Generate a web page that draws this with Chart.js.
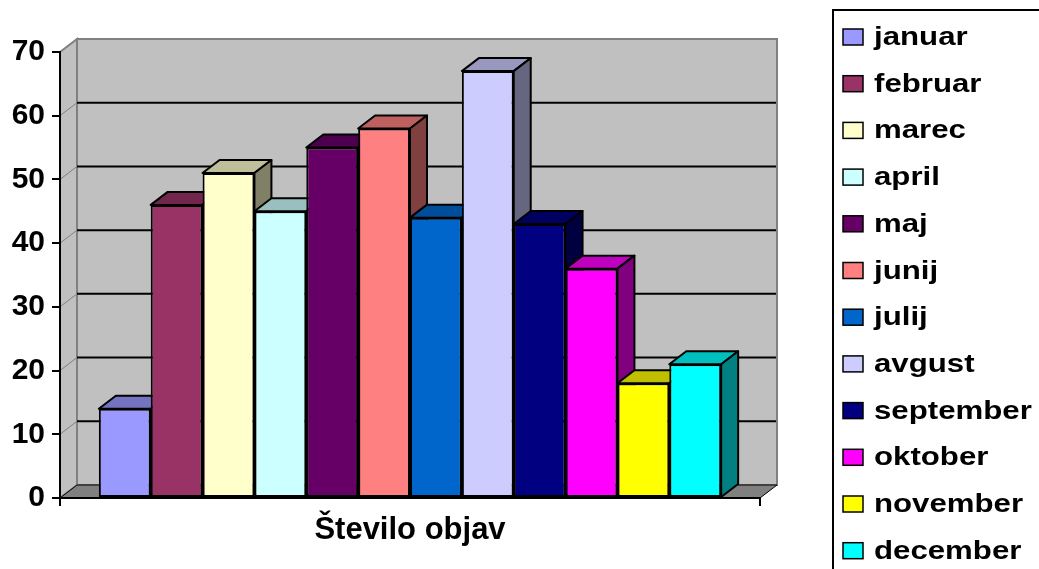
<!DOCTYPE html>
<html>
<head>
<meta charset="utf-8">
<script src="https://cdn.jsdelivr.net/npm/chart.js@4/dist/chart.umd.min.js"></script>
<style>
html, body { margin: 0; padding: 0; background: #fff; }
</style>
</head>
<body>
<canvas id="objaveChart" width="1039" height="569"></canvas>
<script>
const months = ['januar', 'februar', 'marec', 'april', 'maj', 'junij', 'julij', 'avgust', 'september', 'oktober', 'november', 'december'];
const counts = [14, 46, 51, 45, 55, 58, 44, 67, 43, 36, 18, 21];
const colors = ['#9999FF', '#993366', '#FFFFCC', '#CCFFFF', '#660066', '#FF8080', '#0066CC', '#CCCCFF', '#000080', '#FF00FF', '#FFFF00', '#00FFFF'];
const category = ['Število objav'];
const yMin = 0, yMax = 70, yStep = 10;

// depth of the fake 3d look
const DX = 17, DY = 13;
const FONT = '"Liberation Sans", Arial, sans-serif';

function shade(hex, f) {
    const n = parseInt(hex.slice(1), 16);
    const r = Math.round(((n >> 16) & 255) * f);
    const g = Math.round(((n >> 8) & 255) * f);
    const b = Math.round((n & 255) * f);
    return 'rgb(' + r + ',' + g + ',' + b + ')';
}

function poly(ctx, pts, fill, stroke, lw) {
    ctx.beginPath();
    ctx.moveTo(pts[0][0], pts[0][1]);
    for (let i = 1; i < pts.length; i++) ctx.lineTo(pts[i][0], pts[i][1]);
    ctx.closePath();
    if (fill) { ctx.fillStyle = fill; ctx.fill(); }
    if (stroke) { ctx.strokeStyle = stroke; ctx.lineWidth = lw; ctx.stroke(); }
}

// walls, floor and gridlines on the back wall
const wallsPlugin = {
    id: 'walls',
    beforeDraw(chart) {
        const ctx = chart.ctx;
        const ys = chart.scales.y;
        const L = chart.chartArea.left, R = chart.chartArea.right;
        const y0 = ys.getPixelForValue(yMin), yT = ys.getPixelForValue(yMax);
        ctx.save();
        poly(ctx, [[L + DX, yT - DY], [R + DX, yT - DY], [R + DX, y0 - DY], [L + DX, y0 - DY]], '#C0C0C0', '#808080', 2);
        poly(ctx, [[L, yT], [L + DX, yT - DY], [L + DX, y0 - DY], [L, y0]], '#C0C0C0', '#808080', 2);
        poly(ctx, [[L, y0], [R, y0], [R + DX, y0 - DY], [L + DX, y0 - DY]], '#808080', '#000', 1);
        for (let v = yMin + yStep; v < yMax; v += yStep) {
            const py = ys.getPixelForValue(v);
            ctx.beginPath();
            ctx.moveTo(L + DX, py - DY);
            ctx.lineTo(R + DX - 1, py - DY);
            ctx.strokeStyle = '#000';
            ctx.lineWidth = 2;
            ctx.stroke();
            ctx.beginPath();
            ctx.moveTo(L, py);
            ctx.lineTo(L + DX, py - DY);
            ctx.strokeStyle = '#808080';
            ctx.lineWidth = 1;
            ctx.stroke();
        }
        ctx.restore();
    }
};

// top and side faces of each column, left to right
const depthPlugin = {
    id: 'depth',
    beforeDatasetsDraw(chart) {
        const ctx = chart.ctx;
        ctx.save();
        ctx.lineJoin = 'round';
        chart.data.datasets.forEach((ds, i) => {
            const el = chart.getDatasetMeta(i).data[0];
            const p = el.getProps(['x', 'y', 'base', 'width'], true);
            const l = p.x - p.width / 2, r = p.x + p.width / 2;
            poly(ctx, [[l, p.y], [l + DX, p.y - DY], [r + DX, p.y - DY], [r, p.y]], shade(ds.backgroundColor, 0.75), '#000', 2);
            poly(ctx, [[r, p.y], [r + DX, p.y - DY], [r + DX, p.base - DY], [r, p.base]], shade(ds.backgroundColor, 0.5), '#000', 2);
        });
        ctx.restore();
    }
};

// boxed legend on the right
const legendPlugin = {
    id: 'boxLegend',
    afterDraw(chart) {
        const ctx = chart.ctx;
        ctx.save();
        ctx.strokeStyle = '#000';
        ctx.lineWidth = 2;
        ctx.strokeRect(833, 10, 220, 580);
        chart.data.datasets.forEach((ds, i) => {
            const cy = 37 + i * 46.7;
            ctx.fillStyle = ds.backgroundColor;
            ctx.fillRect(843, cy - 8, 20, 16);
            ctx.lineWidth = 1.5;
            ctx.strokeRect(843, cy - 8, 20, 16);
            ctx.save();
            ctx.translate(874, cy + 8);
            ctx.scale(1.2, 1);
            ctx.fillStyle = '#000';
            ctx.font = 'bold 26px ' + FONT;
            ctx.textBaseline = 'alphabetic';
            ctx.fillText(ds.label, 0, 0);
            ctx.restore();
        });
        ctx.restore();
    }
};

const datasets = months.map((m, i) => ({
    label: m,
    data: [counts[i]],
    backgroundColor: colors[i],
    borderColor: '#000',
    borderWidth: 2,
    borderSkipped: false,
    barPercentage: 1,
    categoryPercentage: 0.889
}));

new Chart(document.getElementById('objaveChart').getContext('2d'), {
    type: 'bar',
    data: { labels: category, datasets: datasets },
    options: {
        responsive: false,
        animation: false,
        devicePixelRatio: 1,
        layout: { padding: { top: 52, right: 279, left: 0, bottom: 0 } },
        plugins: {
            legend: { display: false },
            tooltip: { enabled: false }
        },
        scales: {
            x: {
                afterFit(scale) { scale.height = 71; },
                grid: { drawOnChartArea: false, offset: true, tickLength: 8, color: '#000', lineWidth: 2 },
                border: { color: '#000', width: 2 },
                ticks: { color: '#000', padding: 6, font: { family: FONT, size: 31, weight: 'bold' } }
            },
            y: {
                min: yMin,
                max: yMax,
                afterFit(scale) { scale.width = 60; },
                grid: { drawOnChartArea: false, tickLength: 8, color: '#000', lineWidth: 2 },
                border: { color: '#000', width: 2 },
                ticks: { stepSize: yStep, color: '#000', padding: 7, font: { family: FONT, size: 30, weight: 'bold' } }
            }
        }
    },
    plugins: [wallsPlugin, depthPlugin, legendPlugin]
});
</script>
</body>
</html>
